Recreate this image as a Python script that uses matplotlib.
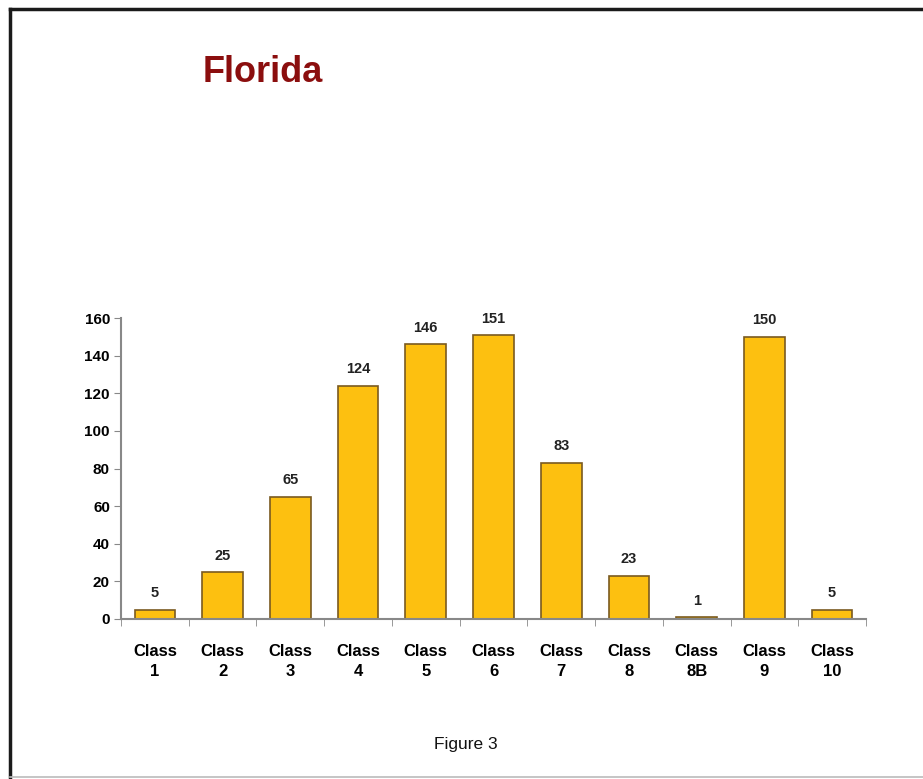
import matplotlib.pyplot as plt
from matplotlib.lines import Line2D
import numpy as np

plt.rcParams['font.family'] = ['Liberation Sans', 'DejaVu Sans']

categories = ['Class\n1', 'Class\n2', 'Class\n3', 'Class\n4', 'Class\n5', 'Class\n6',
              'Class\n7', 'Class\n8', 'Class\n8B', 'Class\n9', 'Class\n10']
counts = [5, 25, 65, 124, 146, 151, 83, 23, 1, 150, 5]
yticks = [0, 20, 40, 60, 80, 100, 120, 140, 160]

W, H = 923, 779
fig = plt.figure(figsize=(W / 100, H / 100), dpi=100)

# page frame: dark top/left edges, faint bottom edge
fig.add_artist(Line2D([10 / W, 10 / W], [1 - 9 / H, 0], transform=fig.transFigure,
                      color='#1a1a1a', lw=2.5))
fig.add_artist(Line2D([10 / W, 1], [1 - 9 / H, 1 - 9 / H], transform=fig.transFigure,
                      color='#1a1a1a', lw=2.5))
fig.add_artist(Line2D([10 / W, 1], [1 - 777 / H, 1 - 777 / H], transform=fig.transFigure,
                      color='#bbbbbb', lw=1.2))

ax = fig.add_axes([121 / W, 1 - 619 / H, (866 - 121) / W, (619 - 318) / H])
x = np.arange(len(counts))
bars = ax.bar(x, counts, width=0.6, color='#FDC010', edgecolor='#7a5a20', linewidth=1.2)

for xi, v in zip(x, counts):
    ax.text(xi, v + 5, str(v), ha='center', va='bottom', fontsize=10.5,
            fontweight='bold', color='#222222')

ax.set_xlim(-0.5, len(counts) - 0.5)
ax.set_ylim(0, 160)
ax.set_yticks(yticks)
ax.set_yticklabels([str(t) for t in yticks], fontsize=11, fontweight='bold')

# category labels centred under bars, tick marks on the boundaries
ax.set_xticks(x)
ax.set_xticklabels(categories, fontsize=12, fontweight='bold', linespacing=1.45)
ax.tick_params(axis='x', which='major', length=0, pad=18)
ax.set_xticks(np.arange(-0.5, len(counts)), minor=True)
ax.tick_params(axis='x', which='minor', length=5, direction='out', color='#888888')
ax.tick_params(axis='y', length=5, color='#888888', pad=3)

for side in ['top', 'right']:
    ax.spines[side].set_visible(False)
for side in ['left', 'bottom']:
    ax.spines[side].set_color('#888888')
    ax.spines[side].set_linewidth(1.5)

fig.text(203 / W, 1 - 72 / H, 'Florida', fontsize=26, fontweight='bold',
         color='#8b0e0e', ha='left', va='center')
fig.text(466 / W, 1 - 745 / H, 'Figure 3', fontsize=12.5, ha='center', va='center',
         color='#111111')

fig.savefig('out.png', dpi=100)
